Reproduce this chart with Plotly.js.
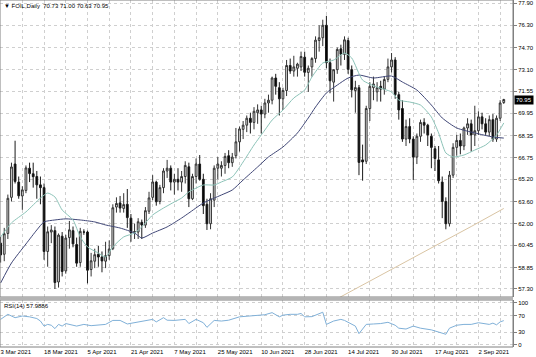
<!DOCTYPE html>
<html>
<head>
<meta charset="utf-8">
<script src="https://cdn.plot.ly/plotly-3.0.1.min.js"></script>
<style>html,body{margin:0;padding:0;background:#fff;}#chart{width:536px;height:357px;}</style>
</head>
<body>
<div id="chart"></div>
<script>
// ---- data ----
const symbol = "FOIL,Daily";
const open = [60.60,59.80,61.30,63.90,66.30,65.00,64.00,64.40,66.00,65.60,65.40,64.80,64.60,60.00,61.40,61.50,57.80,61.10,58.60,61.00,61.50,60.50,59.20,61.40,61.40,58.70,59.30,59.80,59.60,59.30,59.70,60.20,63.20,63.50,63.10,63.40,62.40,61.40,61.40,62.10,61.90,62.90,63.90,65.00,63.60,64.60,65.80,66.00,65.00,65.20,65.00,65.40,66.10,63.80,65.40,66.30,65.20,63.40,62.00,63.70,66.00,66.00,66.20,66.90,66.40,66.90,67.90,68.80,69.10,69.60,69.30,70.00,70.20,69.90,70.70,70.90,72.50,71.80,71.00,71.60,73.40,73.00,73.20,73.30,74.00,72.90,73.30,73.90,75.20,75.40,76.30,73.60,72.20,73.10,74.60,74.20,75.20,73.10,71.60,71.80,66.60,66.50,70.30,71.80,71.50,71.90,71.70,72.40,73.30,73.80,71.30,70.30,68.10,69.00,68.10,66.80,68.30,69.30,69.10,68.30,67.40,66.60,65.00,63.60,62.00,65.50,67.50,68.00,67.60,68.90,69.20,68.40,68.70,69.70,69.20,68.60,69.50,68.10,69.60,70.73];
const high = [61.05,61.70,64.10,66.40,67.98,65.40,64.70,66.20,66.40,66.40,65.80,65.40,64.90,61.80,61.90,61.80,61.30,61.40,61.20,62.20,61.80,61.00,61.70,61.60,61.50,59.90,60.20,60.40,60.00,60.70,60.80,63.40,63.90,64.00,64.20,64.50,62.70,62.00,62.40,62.30,63.20,64.30,65.50,65.10,64.80,66.00,66.60,66.20,65.60,66.00,65.80,66.50,66.40,65.60,66.70,66.95,65.60,63.80,64.20,66.20,66.80,66.50,67.10,67.30,67.10,68.90,69.00,69.40,69.80,70.00,70.40,70.60,70.50,71.00,71.30,72.60,72.80,72.20,71.80,73.80,73.90,74.10,73.60,74.40,74.40,73.40,74.00,75.50,76.30,76.70,76.98,73.90,73.10,74.70,74.90,75.50,75.40,73.40,72.30,72.00,67.70,70.50,72.20,72.60,72.20,72.30,72.60,73.90,74.30,74.00,71.50,70.90,69.50,69.60,68.30,68.50,69.50,69.60,69.20,68.50,67.60,67.60,65.40,63.90,65.80,67.80,68.40,68.50,69.00,69.60,69.50,70.50,70.10,70.00,69.60,69.80,69.90,69.80,70.90,71.00];
const low = [59.20,59.30,60.90,63.60,64.90,63.80,63.00,64.20,65.00,64.60,63.80,63.40,59.40,58.90,60.60,57.30,57.40,58.20,58.40,60.20,60.30,58.90,58.90,61.20,57.70,58.20,58.80,58.90,58.50,58.80,59.40,60.10,62.80,62.80,62.80,61.70,60.70,60.90,60.90,60.90,61.70,62.70,63.70,63.30,63.40,64.20,65.30,64.40,64.10,64.40,64.30,64.90,63.20,63.70,64.90,65.10,62.70,61.55,61.60,63.20,65.20,65.40,65.60,66.00,66.10,66.70,67.20,68.10,68.60,68.50,68.80,69.20,68.50,69.60,70.00,70.60,71.30,69.80,70.20,71.20,72.80,72.60,72.60,73.00,72.60,71.50,72.60,73.60,74.40,74.80,73.20,71.40,70.80,72.80,73.40,73.80,72.80,71.10,70.00,65.50,65.10,66.30,69.40,70.90,70.80,70.80,71.30,72.20,72.90,71.00,69.50,67.90,67.60,67.80,65.15,66.30,67.90,68.50,67.60,66.00,65.80,64.90,62.40,61.60,61.80,65.30,66.90,67.00,67.30,68.40,67.20,67.60,68.40,68.80,68.40,68.30,67.90,67.90,69.40,70.63];
const close = [59.75,61.28,63.83,66.09,65.05,64.01,64.44,66.02,65.61,65.39,64.80,64.60,60.00,61.42,61.55,57.76,61.18,58.56,60.97,61.56,60.55,59.16,61.45,61.40,58.65,59.33,59.77,59.60,59.32,59.70,60.18,63.15,63.46,63.13,63.38,62.44,61.35,61.43,62.14,61.91,62.94,63.86,65.01,63.58,64.60,65.80,66.00,65.00,65.20,65.00,65.40,66.20,63.80,65.40,66.30,65.20,63.30,62.00,63.80,66.00,66.30,66.20,66.85,66.40,66.80,67.90,68.83,69.10,69.60,69.30,70.10,70.20,69.90,70.70,70.90,72.50,71.90,71.00,71.60,73.40,73.00,73.30,73.50,74.05,72.91,73.20,73.90,75.23,75.40,76.30,73.60,72.30,73.10,74.56,74.20,75.25,73.13,71.65,71.81,66.42,66.45,70.30,71.90,72.07,71.80,71.70,72.39,73.30,73.80,71.30,70.20,68.10,69.00,68.10,66.80,68.30,69.30,69.10,68.40,67.50,66.70,65.10,63.60,62.00,65.50,67.50,68.00,67.60,68.90,69.20,68.40,68.70,69.70,69.20,68.60,69.50,68.10,69.60,70.70,70.95];

// moving averages: [bar index, value]
const maFastIdx = [0,3,7,11,13,15,17,20,22,24,27,29,31,34,37,39,42,45,48,50,52,56,59,61,64,67,70,73,75,78,81,84,86,89,92,95,97,100,104,108,110,113,116,119,121,123,125,128,131,134,137,139];
const maFastVal = [61.04,62.06,62.85,63.85,64.21,63.93,62.99,62.27,61.05,60.33,59.89,59.60,60.33,61.05,61.33,61.77,62.63,63.13,63.57,63.85,64.29,64.79,64.79,65.01,65.37,66.45,67.67,68.75,69.47,70.19,71.06,71.63,72.57,73.58,73.79,74.30,73.94,72.35,71.85,71.49,70.91,70.77,70.55,69.69,68.54,67.10,66.81,66.95,67.31,67.67,68.39,69.26];
const maSlowIdx = [0,3,7,10,12,15,18,22,26,29,33,37,39,42,46,50,52,56,61,64,67,71,74,78,82,85,87,90,93,96,99,103,108,111,115,119,122,126,131,136,139];
const maSlowVal = [57.73,59.17,60.54,61.55,62.13,62.27,62.35,62.27,62.13,61.91,61.69,61.33,60.97,61.33,61.77,62.41,62.77,63.49,64.07,64.43,65.15,66.09,66.81,67.53,68.54,69.62,70.41,71.42,71.99,72.50,72.71,72.50,72.64,72.21,71.63,70.55,69.62,68.90,68.54,68.25,68.17];
const maLongIdx = [93,100,110,120,130,139];
const maLongVal = [56.60,57.60,59.00,60.40,61.80,63.10];

// RSI(14)
const rsiIdx = [0,2,4,6,8,10,11,12,13,14,15,16,17,18,21,23,25,27,29,31,33,35,37,39,42,43,45,46,48,51,52,54,56,57,59,61,63,66,68,71,73,75,77,78,80,82,83,84,86,89,90,92,94,95,97,98,99,101,103,105,107,109,110,112,114,116,119,121,123,124,126,128,130,132,134,135,136,137,138,139];
const rsiVal = [61,73,65,69,67,63,57,45,49,47,39,49,45,51,45,49,46,47,49,58.5,58.5,50,53,57,61,55,65,59,58.5,61,51,61,53,42,58.5,57,59,67,68,70,72,77,67,71,73,73,75,67,67.5,78,49,57,61,58.5,49,45,27,49,50,51,54,47,40,38,45,40,36,30.5,25.5,40,47,49,49,53,51,49,52,48,55,57.9886];
const rsiLast = 57.9886;

// axis labels
const priceTicks = [77.90,76.30,74.70,73.10,71.55,69.95,68.35,66.75,65.20,63.60,62.00,60.45,58.85,57.30];
const rsiTicks = [0,30,70,100];
const dateLabelIdx = [0,12,24,36,48,60,72,84,96,108,120,132];
const dateLabels = ["3 Mar 2021","18 Mar 2021","5 Apr 2021","21 Apr 2021","7 May 2021","25 May 2021","10 Jun 2021","28 Jun 2021","14 Jul 2021","30 Jul 2021","17 Aug 2021","2 Sep 2021"];

// ---- build ----
const idx = close.map((_, i) => i);
const n = close.length;
const gridIdx = [], gridText = [];
for (let i = 0; i < n; i += 6) {
  gridIdx.push(i);
  const k = dateLabelIdx.indexOf(i);
  gridText.push(k >= 0 ? dateLabels[k] : "");
}
const FONT = "Liberation Sans, Arial, sans-serif";
const GRID = "#cfcfcf";

const traces = [
  {type:"candlestick", x: idx, open, high, low, close, xaxis:"x", yaxis:"y",
   increasing:{line:{color:"#333333", width:1}, fillcolor:"#e6e6e6"},
   decreasing:{line:{color:"#1a1a1a", width:1}, fillcolor:"#000000"},
   whiskerwidth:0, hoverinfo:"skip", showlegend:false},
  {type:"scatter", mode:"lines", x: maLongIdx, y: maLongVal, xaxis:"x", yaxis:"y",
   line:{color:"#d9c4a3", width:1}, hoverinfo:"skip", showlegend:false},
  {type:"scatter", mode:"lines", x: maSlowIdx, y: maSlowVal, xaxis:"x", yaxis:"y",
   line:{color:"#3f4676", width:1, shape:"spline", smoothing:0.6}, hoverinfo:"skip", showlegend:false},
  {type:"scatter", mode:"lines", x: maFastIdx, y: maFastVal, xaxis:"x", yaxis:"y",
   line:{color:"#8cc3b8", width:1, shape:"spline", smoothing:0.6}, hoverinfo:"skip", showlegend:false},
  {type:"scatter", mode:"lines", x: rsiIdx, y: rsiVal, xaxis:"x2", yaxis:"y2",
   line:{color:"#7fb0d8", width:1}, hoverinfo:"skip", showlegend:false}
];

const xr = [-0.17, 141.55];
const mainBottom = 50/347, rsiTop = 47/347;
const layout = {
  width:536, height:357,
  margin:{l:0, r:23, t:0, b:10, pad:0},
  paper_bgcolor:"#ffffff", plot_bgcolor:"#ffffff",
  font:{family:FONT, size:6, color:"#000"},
  showlegend:false,
  xaxis:{domain:[0,1], range:xr, anchor:"y", rangeslider:{visible:false},
    tickmode:"array", tickvals:gridIdx, ticktext:gridText, showticklabels:false,
    showgrid:true, gridcolor:GRID, griddash:"dot", gridwidth:1, zeroline:false, showline:false, ticks:""},
  xaxis2:{domain:[0,1], range:xr, anchor:"y2", matches:"x",
    tickmode:"array", tickvals:gridIdx, ticktext:gridText, ticklabelposition:"outside right",
    tickfont:{family:FONT, size:6, color:"#000"},
    showgrid:true, gridcolor:GRID, griddash:"dot", gridwidth:1, zeroline:false, showline:false, ticks:""},
  yaxis:{domain:[mainBottom,1], range:[56.72, 78.12], side:"right", anchor:"x",
    tickmode:"array", tickvals:priceTicks, ticktext:priceTicks.map(v=>v.toFixed(2)),
    tickfont:{family:FONT, size:6, color:"#000"},
    ticks:"outside", ticklen:3, tickcolor:"#808080",
    showgrid:true, gridcolor:GRID, griddash:"dot", zeroline:false,
    showline:true, linecolor:"#808080", linewidth:1},
  yaxis2:{domain:[0,rsiTop], range:[-4.8, 107.1], side:"right", anchor:"x2",
    tickmode:"array", tickvals:rsiTicks, ticktext:rsiTicks.map(String),
    tickfont:{family:FONT, size:6, color:"#000"},
    ticks:"outside", ticklen:3, tickcolor:"#808080",
    showgrid:true, gridcolor:GRID, griddash:"dot", zeroline:false,
    showline:true, linecolor:"#808080", linewidth:1},
  shapes:[
    {type:"rect", xref:"paper", yref:"paper", x0:0, x1:1, y0:mainBottom, y1:1, line:{color:"#808080", width:1}},
    {type:"rect", xref:"paper", yref:"paper", x0:0, x1:1, y0:0, y1:rsiTop, line:{color:"#808080", width:1}},
    {type:"rect", xref:"paper", yref:"paper", x0:0, x1:1, y0:rsiTop, y1:mainBottom, fillcolor:"#b4b4b4", line:{width:0}}
  ],
  annotations:[
    {xref:"paper", yref:"paper", x:0, y:1, xanchor:"left", yanchor:"top", xshift:2, yshift:-1, showarrow:false,
     text:"\u25BC " + symbol + "  " + [open[n-1],high[n-1],low[n-1],close[n-1]].map(v=>v.toFixed(2)).join(" "),
     font:{family:FONT, size:6, color:"#000"}},
    {xref:"paper", yref:"paper", x:0, y:rsiTop, xanchor:"left", yanchor:"top", xshift:2, yshift:-1, showarrow:false,
     text:"RSI(14) " + rsiLast.toFixed(4), font:{family:FONT, size:6, color:"#000"}},
    {xref:"paper", yref:"y", x:1, y:close[n-1], xanchor:"left", yanchor:"middle", xshift:1, showarrow:false,
     text:close[n-1].toFixed(2), bgcolor:"#000000", borderpad:1, font:{family:FONT, size:6, color:"#ffffff"}}
  ]
};
Plotly.newPlot("chart", traces, layout, {staticPlot:true, displayModeBar:false});
</script>
</body>
</html>
